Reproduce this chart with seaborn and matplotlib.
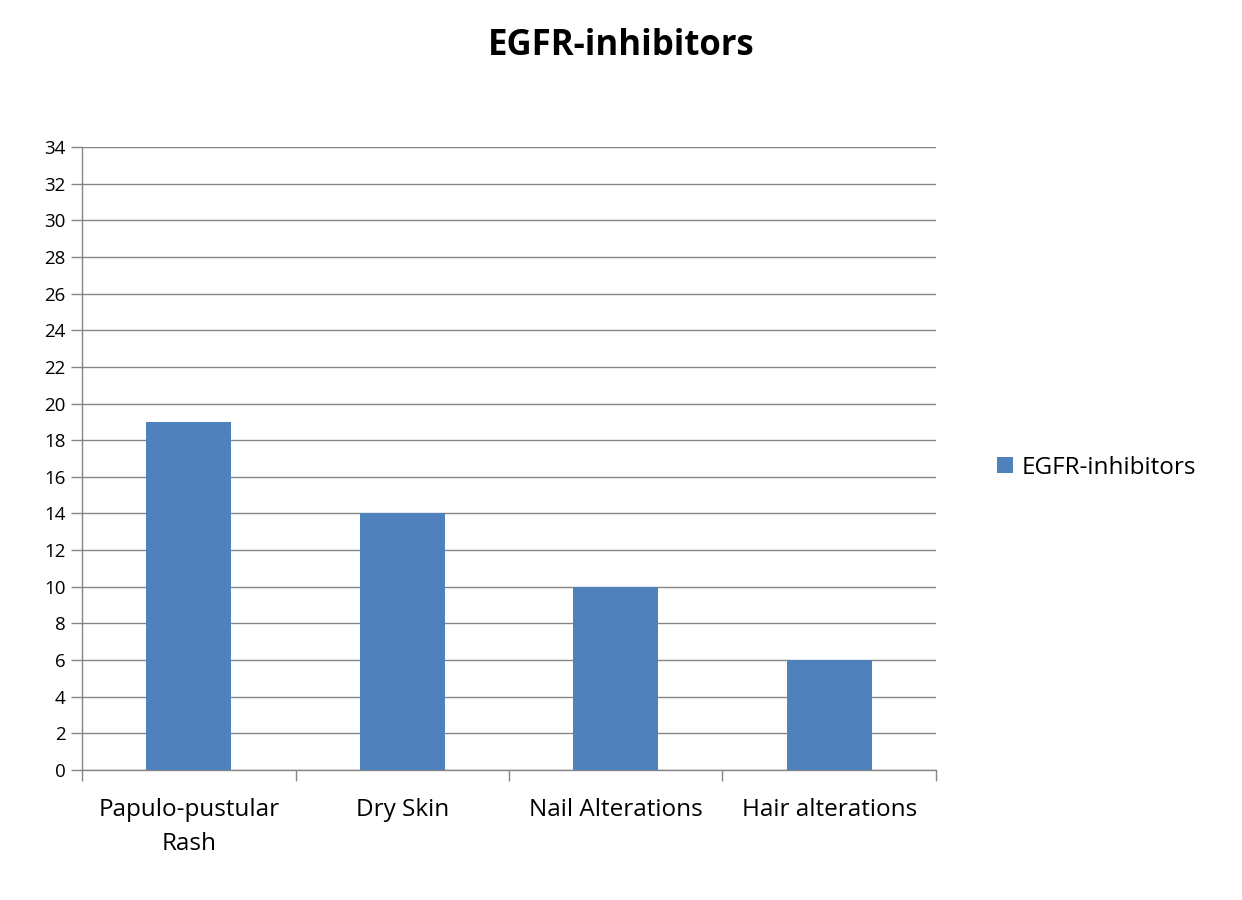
import matplotlib
matplotlib.use("Agg")
import matplotlib.pyplot as plt
import pandas as pd
import seaborn as sns

categories = ["Papulo-pustular\nRash", "Dry Skin", "Nail Alterations", "Hair alterations"]
values = [19, 14, 10, 6]
series_name = "EGFR-inhibitors"
y_ticks = list(range(0, 35, 2))

df = pd.DataFrame({"category": categories, "value": values, "series": series_name})

sns.set_style("white")
plt.rcParams["font.family"] = ["Open Sans", "DejaVu Sans"]
plt.rcParams["text.color"] = "black"
plt.rcParams["xtick.labelcolor"] = "black"
plt.rcParams["ytick.labelcolor"] = "black"

fig = plt.figure(figsize=(12.42, 9), dpi=100)
ax = fig.add_axes([82 / 1242, 1 - 770 / 900, (936 - 82) / 1242, (770 - 147) / 900])

sns.barplot(data=df, x="category", y="value", hue="series", palette=["#4F81BD"],
            width=0.4, saturation=1, linewidth=0, ax=ax, zorder=3)

ax.set_xlim(-0.5, len(categories) - 0.5)
ax.set_ylim(0, 34)
ax.set_yticks(y_ticks)
ax.set_yticklabels([str(t) for t in y_ticks], fontsize=13.5)
ax.yaxis.grid(True, color="#868686", linewidth=1, zorder=0)

# category labels as minor ticks, boundaries as major ticks
ax.set_xticks([i - 0.5 for i in range(len(categories) + 1)])
ax.set_xticklabels([])
ax.set_xticks(range(len(categories)), minor=True)
ax.set_xticklabels(categories, minor=True, fontsize=17.5, linespacing=1.55)
ax.tick_params(axis="x", which="major", length=8, width=1, color="#868686", direction="out", bottom=True)
ax.tick_params(axis="x", which="minor", length=0, pad=20, labelcolor="black")
ax.tick_params(axis="y", length=8, width=1, color="#868686", direction="out", left=True, pad=4,
               labelcolor="black")

for side in ["top", "right"]:
    ax.spines[side].set_visible(False)
for side in ["left", "bottom"]:
    ax.spines[side].set_color("#868686")
    ax.spines[side].set_linewidth(1)

ax.set_xlabel("")
ax.set_ylabel("")

leg = ax.legend(loc="center left", bbox_to_anchor=(1.046, 0.485), frameon=False,
                fontsize=17.5, handlelength=0.65, handleheight=0.65, handletextpad=0.35)

fig.text(0.5, 1 - 46 / 900, "EGFR-inhibitors", ha="center", va="center",
         fontsize=25, fontweight="bold", color="black")

fig.savefig("out.png", dpi=100, facecolor="white")
